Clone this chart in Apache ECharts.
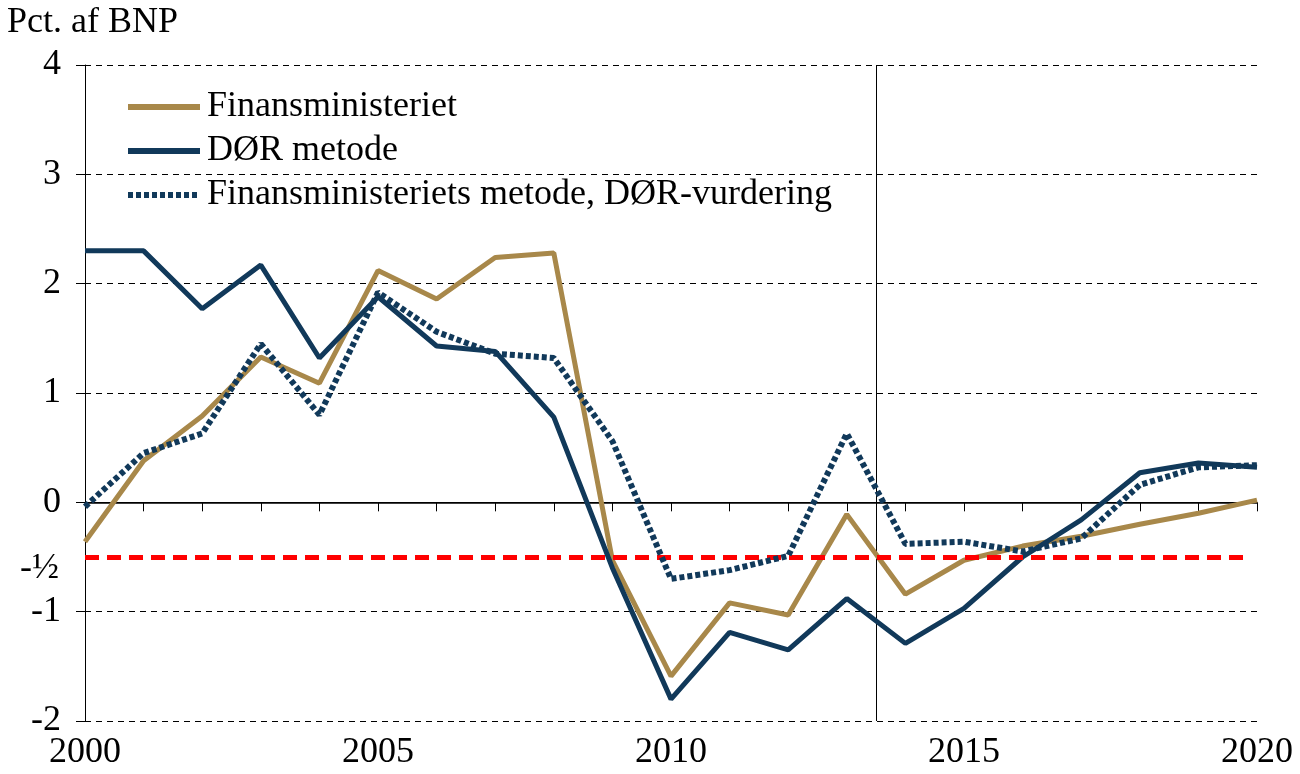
<!DOCTYPE html>
<html>
<head>
<meta charset="utf-8">
<script src="https://cdn.jsdelivr.net/npm/echarts@6/dist/echarts.min.js"></script>
<style>
  html, body { margin: 0; padding: 0; background: #fff; }
  #chart { width: 1300px; height: 774px; }
</style>
</head>
<body>
<div id="chart"></div>
<script>
  // data
  var years = [2000, 2001, 2002, 2003, 2004, 2005, 2006, 2007, 2008, 2009, 2010,
               2011, 2012, 2013, 2014, 2015, 2016, 2017, 2018, 2019, 2020];
  var finansministeriet = [-0.36, 0.38, 0.79, 1.33, 1.09, 2.12, 1.86, 2.24, 2.28, -0.53, -1.59,
                           -0.92, -1.03, -0.11, -0.84, -0.53, -0.40, -0.31, -0.20, -0.10, 0.02];
  var dorMetode = [2.30, 2.30, 1.77, 2.17, 1.32, 1.88, 1.43, 1.38, 0.78, -0.60, -1.80,
                   -1.19, -1.35, -0.88, -1.29, -0.97, -0.50, -0.16, 0.27, 0.36, 0.32];
  var fmMetodeDor = [-0.04, 0.45, 0.63, 1.45, 0.80, 1.92, 1.56, 1.36, 1.32, 0.56, -0.70,
                     -0.62, -0.49, 0.63, -0.38, -0.36, -0.45, -0.33, 0.16, 0.32, 0.34];
  var yTicks = [-2, -1, 0, 1, 2, 3, 4];
  var targetLine = -0.5;   // -½ pct. grænse
  var splitYear = 2013.5;  // lodret streg

  function pairs(vals) {
    return years.map(function (y, i) { return [y, vals[i]]; });
  }

  var serif = '"Liberation Serif", "DejaVu Serif", serif';
  var gold = '#A8884A';
  var navy = '#11395A';
  var fs = 36;

  var chart = echarts.init(document.getElementById('chart'));

  var option = {
    animation: false,
    backgroundColor: '#fff',
    textStyle: { fontFamily: serif, color: '#000' },
    title: {
      text: 'Pct. af BNP',
      left: 2, top: 0,
      textStyle: { fontFamily: serif, fontSize: fs, fontWeight: 'normal', color: '#000' }
    },
    grid: { left: 85, right: 43, top: 65, bottom: 53 },
    legend: {
      orient: 'vertical',
      left: 120, top: 84,
      itemWidth: 72, itemHeight: 10, itemGap: 8,
      itemStyle: { opacity: 0 },
      lineStyle: { width: 6 },
      textStyle: { fontFamily: serif, fontSize: fs, color: '#000', padding: [0, 0, 0, 2] },
      data: ['Finansministeriet', 'DØR metode', 'Finansministeriets metode, DØR-vurdering']
    },
    xAxis: {
      type: 'value',
      min: 2000, max: 2020, interval: 1,
      axisLine: { lineStyle: { color: '#000', width: 1 } },
      axisTick: { show: true, length: 9, lineStyle: { color: '#000' } },
      axisLabel: {
        fontFamily: serif, fontSize: fs, color: '#000', margin: 14,
        formatter: function (v) { return v % 5 === 0 ? String(v) : ''; }
      },
      splitLine: { show: false }
    },
    yAxis: {
      type: 'value',
      min: yTicks[0], max: yTicks[yTicks.length - 1], interval: 1,
      axisLine: { show: true, lineStyle: { color: '#000', width: 1 } },
      axisTick: { show: true, length: 9, lineStyle: { color: '#000' } },
      axisLabel: { fontFamily: serif, fontSize: fs, color: '#000', margin: 24 },
      splitLine: { show: true, lineStyle: { color: '#000', type: [6, 5], width: 1 } }
    },
    series: [
      {
        name: 'Finansministeriet',
        type: 'line',
        data: pairs(finansministeriet),
        symbol: 'none',
        z: 3,
        lineStyle: { color: gold, width: 5 },
        itemStyle: { color: gold },
        markLine: {
          silent: true,
          symbol: 'none',
          z: 1,
          data: [
            { xAxis: splitYear, lineStyle: { color: '#000', width: 1, type: 'solid' }, label: { show: false } },
            { yAxis: 0, lineStyle: { color: '#000', width: 1.5, type: 'solid' }, label: { show: false } }
          ]
        }
      },
      {
        name: 'DØR metode',
        type: 'line',
        data: pairs(dorMetode),
        symbol: 'none',
        z: 4,
        lineStyle: { color: navy, width: 5 },
        itemStyle: { color: navy }
      },
      {
        name: 'Finansministeriets metode, DØR-vurdering',
        type: 'line',
        data: pairs(fmMetodeDor),
        symbol: 'none',
        z: 5,
        lineStyle: { color: navy, width: 6, type: [5, 3] },
        itemStyle: { color: navy },
        markLine: {
          silent: true,
          symbol: 'none',
          data: [[
            { coord: [2000, targetLine] },
            { coord: [2019.8, targetLine] }
          ]],
          lineStyle: { color: '#FF0000', width: 5, type: [14, 8] },
          label: {
            show: true,
            position: 'start',
            formatter: '-½',
            fontFamily: serif, fontSize: fs, color: '#000',
            distance: 26,
            offset: [0, 12]
          }
        }
      }
    ]
  };

  chart.setOption(option);
</script>
</body>
</html>
